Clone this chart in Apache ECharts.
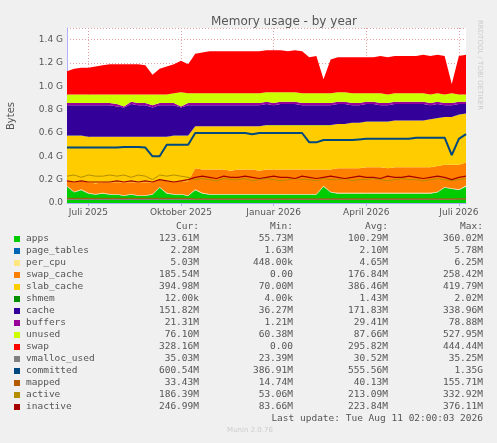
<!DOCTYPE html>
<html><head><meta charset="utf-8">
<script src="https://cdn.jsdelivr.net/npm/echarts@6/dist/echarts.min.js"></script>
<style>html,body{margin:0;padding:0;background:#f0f0f0}#c{width:497px;height:443px}</style>
</head><body><div id="c"></div>
<script>
// weekly samples starting 2025-06-09, values in G
const apps=[0.14,0.09,0.11,0.08,0.07,0.08,0.07,0.07,0.06,0.07,0.06,0.06,0.07,0.13,0.08,0.07,0.07,0.06,0.11,0.08,0.07,0.07,0.07,0.07,0.07,0.07,0.07,0.07,0.07,0.07,0.07,0.07,0.07,0.07,0.07,0.07,0.14,0.09,0.08,0.08,0.08,0.08,0.08,0.08,0.08,0.08,0.08,0.08,0.08,0.08,0.08,0.08,0.09,0.13,0.12,0.11,0.14];
const page_tables=[0.002,0.002,0.002,0.002,0.002,0.002,0.002,0.002,0.002,0.002,0.002,0.002,0.002,0.002,0.002,0.002,0.002,0.002,0.002,0.002,0.002,0.002,0.002,0.002,0.002,0.002,0.002,0.002,0.002,0.002,0.002,0.002,0.002,0.002,0.002,0.002,0.002,0.002,0.002,0.002,0.002,0.002,0.002,0.002,0.002,0.002,0.002,0.002,0.002,0.002,0.002,0.002,0.002,0.002,0.002,0.002,0.002];
const per_cpu=[0.005,0.005,0.005,0.005,0.005,0.005,0.005,0.005,0.005,0.005,0.005,0.005,0.005,0.005,0.005,0.005,0.005,0.005,0.005,0.005,0.005,0.005,0.005,0.005,0.005,0.005,0.005,0.005,0.005,0.005,0.005,0.005,0.005,0.005,0.005,0.005,0.005,0.005,0.005,0.005,0.005,0.005,0.005,0.005,0.005,0.005,0.005,0.005,0.005,0.005,0.005,0.005,0.005,0.005,0.005,0.005,0.005];
const swap_cache=[0.05,0.08,0.07,0.09,0.09,0.09,0.10,0.10,0.11,0.10,0.11,0.11,0.10,0.06,0.10,0.11,0.11,0.12,0.18,0.20,0.21,0.21,0.21,0.20,0.21,0.21,0.21,0.20,0.21,0.21,0.21,0.21,0.21,0.21,0.21,0.21,0.14,0.19,0.21,0.21,0.21,0.21,0.22,0.22,0.22,0.21,0.22,0.22,0.22,0.22,0.22,0.22,0.22,0.19,0.20,0.21,0.20];
const slab_cache=[0.38,0.40,0.39,0.39,0.40,0.39,0.39,0.39,0.39,0.39,0.39,0.39,0.39,0.37,0.38,0.39,0.39,0.39,0.36,0.37,0.37,0.37,0.37,0.38,0.37,0.37,0.37,0.38,0.38,0.38,0.38,0.38,0.38,0.38,0.38,0.38,0.38,0.38,0.38,0.38,0.39,0.39,0.39,0.39,0.39,0.40,0.40,0.40,0.40,0.40,0.40,0.41,0.41,0.41,0.41,0.43,0.42];
const shmem=[0.001,0.001,0.001,0.001,0.001,0.001,0.001,0.001,0.001,0.001,0.001,0.001,0.001,0.001,0.001,0.001,0.001,0.001,0.001,0.001,0.001,0.001,0.001,0.001,0.001,0.001,0.001,0.001,0.001,0.001,0.001,0.001,0.001,0.001,0.001,0.001,0.001,0.001,0.001,0.001,0.001,0.001,0.001,0.001,0.001,0.001,0.001,0.001,0.001,0.001,0.001,0.001,0.001,0.001,0.001,0.001,0.001];
const cache=[0.26,0.26,0.26,0.27,0.27,0.27,0.27,0.26,0.25,0.28,0.27,0.27,0.25,0.27,0.27,0.26,0.24,0.26,0.18,0.18,0.18,0.18,0.18,0.18,0.18,0.18,0.18,0.18,0.18,0.17,0.18,0.18,0.18,0.17,0.17,0.17,0.17,0.17,0.17,0.17,0.15,0.15,0.15,0.15,0.14,0.14,0.14,0.14,0.14,0.14,0.14,0.12,0.12,0.10,0.10,0.09,0.08];
const buffers=[0.02,0.02,0.02,0.02,0.02,0.02,0.02,0.02,0.01,0.02,0.02,0.02,0.02,0.02,0.02,0.02,0.01,0.02,0.02,0.02,0.02,0.02,0.02,0.02,0.02,0.02,0.02,0.02,0.02,0.02,0.02,0.02,0.02,0.02,0.02,0.02,0.02,0.02,0.02,0.02,0.02,0.02,0.02,0.02,0.02,0.02,0.02,0.02,0.02,0.02,0.02,0.02,0.02,0.02,0.02,0.02,0.02];
const unused=[0.072,0.072,0.072,0.072,0.072,0.072,0.072,0.082,0.102,0.062,0.072,0.072,0.092,0.072,0.072,0.082,0.122,0.082,0.082,0.082,0.082,0.082,0.082,0.082,0.082,0.082,0.082,0.082,0.082,0.092,0.082,0.082,0.082,0.082,0.082,0.082,0.082,0.082,0.082,0.082,0.082,0.082,0.072,0.072,0.082,0.072,0.072,0.072,0.072,0.072,0.072,0.072,0.072,0.072,0.082,0.062,0.062];
const swap=[0.20,0.22,0.23,0.23,0.24,0.25,0.26,0.26,0.26,0.26,0.26,0.25,0.17,0.22,0.24,0.25,0.27,0.25,0.34,0.35,0.36,0.36,0.36,0.36,0.36,0.36,0.36,0.36,0.36,0.36,0.36,0.35,0.36,0.36,0.31,0.32,0.12,0.29,0.30,0.30,0.31,0.31,0.31,0.31,0.32,0.32,0.32,0.32,0.32,0.32,0.33,0.33,0.33,0.33,0.08,0.33,0.34];
const vmalloc_used=[0.03,0.03,0.03,0.03,0.03,0.03,0.03,0.03,0.03,0.03,0.03,0.03,0.03,0.03,0.03,0.03,0.03,0.03,0.03,0.03,0.03,0.03,0.03,0.03,0.03,0.03,0.03,0.03,0.03,0.03,0.03,0.03,0.03,0.03,0.03,0.03,0.03,0.03,0.03,0.03,0.03,0.03,0.03,0.03,0.03,0.03,0.03,0.03,0.03,0.03,0.03,0.03,0.03,0.03,0.03,0.034,0.034];
const committed=[0.475,0.475,0.475,0.475,0.475,0.475,0.475,0.475,0.48,0.48,0.48,0.475,0.40,0.40,0.50,0.50,0.50,0.50,0.60,0.60,0.60,0.60,0.60,0.60,0.60,0.60,0.59,0.60,0.60,0.60,0.60,0.60,0.60,0.60,0.52,0.52,0.54,0.54,0.54,0.54,0.54,0.545,0.55,0.55,0.55,0.55,0.55,0.55,0.55,0.56,0.56,0.56,0.56,0.56,0.41,0.55,0.59];
const mapped=[0.04,0.04,0.04,0.04,0.04,0.04,0.04,0.04,0.04,0.04,0.04,0.04,0.04,0.04,0.04,0.04,0.04,0.04,0.035,0.035,0.035,0.035,0.035,0.035,0.035,0.035,0.035,0.035,0.035,0.035,0.035,0.035,0.035,0.035,0.035,0.035,0.035,0.035,0.035,0.035,0.035,0.035,0.035,0.035,0.035,0.035,0.035,0.035,0.035,0.035,0.035,0.035,0.035,0.035,0.035,0.035,0.035];
const active=[0.23,0.24,0.22,0.24,0.23,0.23,0.24,0.23,0.24,0.22,0.24,0.23,0.20,0.24,0.23,0.24,0.23,0.22,0.20,0.21,0.20,0.19,0.21,0.20,0.20,0.21,0.19,0.20,0.21,0.20,0.19,0.20,0.21,0.20,0.20,0.19,0.21,0.20,0.20,0.21,0.19,0.20,0.20,0.21,0.20,0.19,0.20,0.21,0.20,0.20,0.19,0.20,0.21,0.20,0.19,0.20,0.21];
const inactive=[0.19,0.18,0.19,0.18,0.18,0.18,0.18,0.19,0.18,0.19,0.18,0.19,0.18,0.20,0.19,0.18,0.19,0.20,0.22,0.23,0.22,0.21,0.23,0.22,0.22,0.23,0.22,0.21,0.22,0.23,0.22,0.22,0.21,0.23,0.22,0.21,0.22,0.23,0.22,0.21,0.22,0.23,0.22,0.22,0.21,0.23,0.22,0.22,0.23,0.22,0.21,0.22,0.23,0.22,0.20,0.22,0.23];
const yTicks=['0.0','0.2 G','0.4 G','0.6 G','0.8 G','1.0 G','1.2 G','1.4 G'];
const monthNames={0:'Januar',3:'April',6:'Juli',9:'Oktober'};
const legendRows=[
['apps','#00cc00','123.61M','55.73M','100.29M','360.02M'],
['page_tables','#0066b3','2.28M','1.63M','2.10M','5.78M'],
['per_cpu','#ffe680','5.03M','448.00k','4.65M','6.25M'],
['swap_cache','#ff8000','185.54M','0.00','176.84M','258.42M'],
['slab_cache','#ffcc00','394.98M','70.00M','386.46M','419.79M'],
['shmem','#008f00','12.00k','4.00k','1.43M','2.02M'],
['cache','#330099','151.82M','36.27M','171.83M','338.96M'],
['buffers','#990099','21.31M','1.21M','29.41M','78.88M'],
['unused','#ccff00','76.10M','60.38M','87.66M','527.95M'],
['swap','#ff0000','328.16M','0.00','295.82M','444.44M'],
['vmalloc_used','#808080','35.03M','23.39M','30.52M','35.25M'],
['committed','#00487d','600.54M','386.91M','555.56M','1.35G'],
['mapped','#b35a00','33.43M','14.74M','40.13M','155.71M'],
['active','#b38f00','186.39M','53.06M','213.09M','332.92M'],
['inactive','#a60000','246.99M','83.66M','223.84M','376.11M']];

const dates=[];
for(let i=0;i<apps.length;i++){const d=new Date(Date.UTC(2025,5,9+7*i));dates.push(d);}
const cats=dates.map(d=>d.toISOString().slice(0,10));
function labelIdx(i){const d=dates[i];for(let k=0;k<7;k++){const e=new Date(d.getTime()+k*86400000);if(e.getUTCDate()===1&&monthNames[e.getUTCMonth()]!==undefined)return e;}return null;}
const areas=[['apps',apps,'#00cc00'],['page_tables',page_tables,'#0066b3'],['per_cpu',per_cpu,'#ffe680'],['swap_cache',swap_cache,'#ff8000'],['slab_cache',slab_cache,'#ffcc00'],['shmem',shmem,'#008f00'],['cache',cache,'#330099'],['buffers',buffers,'#990099'],['unused',unused,'#ccff00'],['swap',swap,'#ff0000']];
const lines=[['vmalloc_used',vmalloc_used,'#808080',1],['mapped',mapped,'#b35a00',1],['active',active,'#b38f00',1],['inactive',inactive,'#a60000',1.2],['committed',committed,'#00487d',2]];
const series=[];
areas.forEach(a=>series.push({name:a[0],type:'line',stack:'m',data:a[1],symbol:'none',lineStyle:{width:0},areaStyle:{color:a[2],opacity:1},itemStyle:{color:a[2]}}));
lines.forEach(a=>series.push({name:a[0],type:'line',data:a[1],symbol:'none',lineStyle:{width:a[3],color:a[2]},itemStyle:{color:a[2]}}));
const mono='DejaVu Sans Mono';const g=[];
const cols=[199,293,388,483];
['Cur:','Min:','Avg:','Max:'].forEach((h,j)=>g.push({type:'text',x:cols[j],y:222,style:{text:h,font:'9.5px '+mono,fill:'#555',align:'right'}}));
legendRows.forEach((r,i)=>{const y=234+i*12;
 g.push({type:'rect',shape:{x:14,y:y+2,width:6,height:6},style:{fill:r[1]}});
 g.push({type:'text',x:26,y:y,style:{text:r[0],font:'9.5px '+mono,fill:'#555'}});
 for(let j=0;j<4;j++)g.push({type:'text',x:cols[j],y:y,style:{text:r[2+j],font:'9.5px '+mono,fill:'#555',align:'right'}});});
g.push({type:'text',x:483,y:414,style:{text:'Last update: Tue Aug 11 02:00:03 2026',font:'9.5px '+mono,fill:'#555',align:'right'}});
g.push({type:'text',x:250,y:427,style:{text:'Munin 2.0.76',font:'7px DejaVu Sans',fill:'#ccc',align:'center'}});
g.push({type:'text',x:483,y:20,rotation:-Math.PI/2,style:{text:'RRDTOOL / TOBI OETIKER',font:'7px DejaVu Sans',fill:'#ccc'}});
g.push({type:'text',x:6,y:130,rotation:Math.PI/2,style:{text:'Bytes',font:'10px DejaVu Sans',fill:'#555'}});
const chart=echarts.init(document.getElementById('c'),null,{renderer:'canvas'});
chart.setOption({
 backgroundColor:'#f0f0f0',animation:false,
 title:{text:'Memory usage - by year',left:279,top:11,textAlign:'center',textStyle:{fontFamily:'DejaVu Sans',fontSize:12,fontWeight:'normal',color:'#555'}},
 grid:{left:67,right:31,top:28,bottom:240,backgroundColor:'#fff',show:true,borderWidth:0},
 xAxis:{type:'category',data:cats,boundaryGap:false,
  axisLine:{lineStyle:{color:'#b0b0ff'}},
  axisTick:{interval:i=>labelIdx(i)!==null,lineStyle:{color:'#b0b0ff'},inside:false,length:3},
  axisLabel:{interval:i=>labelIdx(i)!==null,formatter:(v,i)=>{const e=labelIdx(i);return e?monthNames[e.getUTCMonth()]+' '+e.getUTCFullYear():'';},fontFamily:'DejaVu Sans',fontSize:9,color:'#555',margin:5},
  splitLine:{show:true,interval:i=>labelIdx(i)!==null,lineStyle:{color:'#e4a0a0',type:[1,2]}}},
 yAxis:{type:'value',min:0,max:1.5,interval:0.2,
  axisLine:{show:true,lineStyle:{color:'#b0b0ff'}},axisTick:{show:false},
  axisLabel:{showMaxLabel:false,formatter:v=>yTicks[Math.round(v/0.2)]||'',fontFamily:'DejaVu Sans',fontSize:9,color:'#555',margin:4},
  splitLine:{lineStyle:{color:'#e4a0a0',type:[1,2]}}},
 series:series,graphic:g
});
</script></body></html>
